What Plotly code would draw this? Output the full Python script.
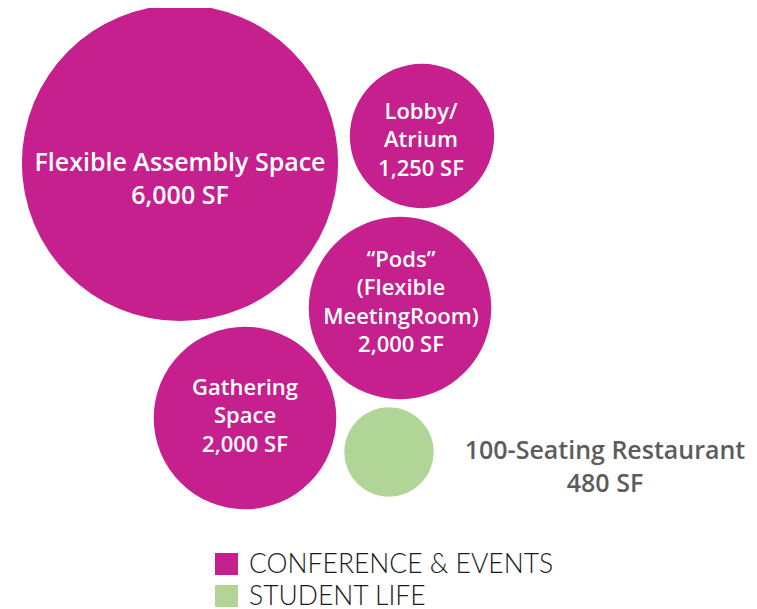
''' 空間需求泡泡圖 '''

import plotly.graph_objects as go


# 資料
labels = ['Flexible Assembly Space', 'Lobby/<br>Atrium', '“Pods”<br>(Flexible<br>MeetingRoom)', 'Gathering<br>Space', '100-Seating Restaurant']
area_sf = [6000, 1250, 2000, 2000, 480]
groups = ['CONFERENCE & EVENTS', 'CONFERENCE & EVENTS', 'CONFERENCE & EVENTS', 'CONFERENCE & EVENTS', 'STUDENT LIFE']
group_names = ['CONFERENCE & EVENTS', 'STUDENT LIFE']

# 版面 (泡泡中心與標籤偏移, 單位 = 畫面像素)
pos_x = [180, 422, 400, 245, 389]
pos_y = [163, 136, 308, 418, 452]
label_dx = [0, -1, 1, 0, 216]
label_dy = [18, 6, -4, 0, 17]
label_size = [25, 22, 22, 22, 25]
label_color = ['white', 'white', 'white', 'white', '#5c5c5c']

colors = {'CONFERENCE & EVENTS': '#C5208E', 'STUDENT LIFE': '#B0D596'}
W, H = 757, 609
PAD = 8  # 瀏覽器 body 預設邊距

fig = go.Figure()

### 泡泡 (面積 = SF)
for g in group_names:
    idx = [i for i, v in enumerate(groups) if v == g]
    fig.add_trace(go.Scatter(
        x=[pos_x[i] for i in idx],
        y=[pos_y[i] for i in idx],
        mode='markers',
        marker=dict(size=[area_sf[i] for i in idx], sizemode='area', sizeref=0.12,
                    color=colors[g], line=dict(width=0), opacity=1),
        name=g,
        showlegend=False,
        hoverinfo='skip'
    ))

### 標籤
fig.add_trace(go.Scatter(
    x=[pos_x[i] + label_dx[i] for i in range(len(labels))],
    y=[pos_y[i] + label_dy[i] for i in range(len(labels))],
    mode='text',
    text=[f'{labels[i]}<br>{area_sf[i]:,} SF' for i in range(len(labels))],
    textposition='middle center',
    textfont=dict(family='Open Sans', size=label_size, color=label_color, weight=600),
    showlegend=False,
    hoverinfo='skip'
))

### 圖例 (手動)
for k, g in enumerate(group_names):
    y0 = 553 + k * 32
    fig.add_shape(type='rect', x0=215, x1=238, y0=y0, y1=y0 + 22,
                  fillcolor=colors[g], line=dict(width=0), layer='above')
    fig.add_annotation(x=247, y=y0 + 10, text=g, showarrow=False,
                       xanchor='left', yanchor='middle',
                       font=dict(family='Lato', size=26.5, color='#1a1a1a', weight=300))

fig.update_xaxes(range=[PAD, W], visible=False, fixedrange=True)
fig.update_yaxes(range=[H, PAD], visible=False, fixedrange=True)
fig.update_layout(
    width=W - PAD, height=H - PAD,
    margin=dict(l=0, r=0, t=0, b=0),
    paper_bgcolor='white', plot_bgcolor='white'
)
fig.write_html('out.html', config={'displayModeBar': False})
